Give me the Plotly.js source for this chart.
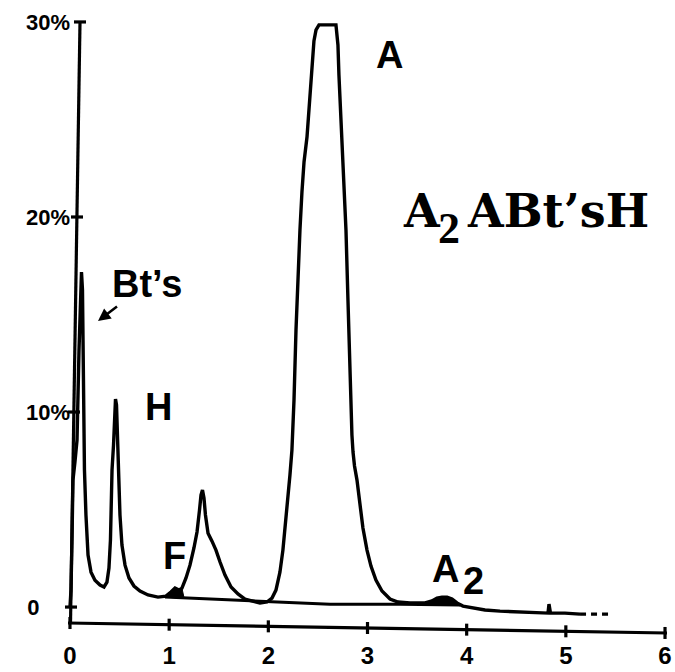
<!DOCTYPE html>
<html>
<head>
<meta charset="utf-8">
<script src="https://cdn.plot.ly/plotly-3.0.1.min.js"></script>
<style>
  html, body { margin: 0; padding: 0; background: #fff; }
  #chart { width: 675px; height: 672px; }
</style>
</head>
<body>
<div id="chart"></div>
<script>
// Retention time (min) and percent of total haemoglobin along the trace
const retentionTime = [
  0.000,0.010,0.020,0.030,0.050,0.071,0.091,0.106,0.116,0.126,
  0.136,0.146,0.161,0.182,0.212,0.252,0.303,0.343,0.373,0.393,
  0.408,0.424,0.439,0.449,0.459,0.469,0.479,0.489,0.504,0.524,
  0.555,0.595,0.645,0.706,0.787,0.887,0.968,1.018,1.059,1.099,
  1.129,1.170,1.210,1.250,1.281,1.306,1.321,1.336,1.351,1.366,
  1.392,1.432,1.472,1.513,1.563,1.624,1.694,1.765,1.835,1.916,
  1.986,2.037,2.077,2.117,2.147,2.168,2.198,2.218,2.238,2.259,
  2.279,2.299,2.319,2.339,2.360,2.390,2.420,2.440,2.460,2.481,
  2.511,2.682,2.702,2.712,2.723,2.743,2.763,2.783,2.803,2.823,
  2.843,2.854,2.869,2.894,2.924,2.954,2.995,3.035,3.085,3.146,
  3.227,3.307,3.428,3.580,3.650,3.701,3.751,3.802,3.852,3.902,
  3.963,4.054,4.185,4.336,4.538,4.800,4.820,4.830,4.845,4.991,
  5.143
];
const percentHb = [
  0.00,0.87,3.44,6.51,7.44,8.56,13.18,16.51,17.18,16.26,
  10.62,7.03,4.72,2.67,1.79,1.38,1.13,1.03,1.28,2.00,
  3.44,7.03,8.31,10.10,10.67,10.36,8.56,6.51,4.72,3.18,
  2.15,1.49,1.08,0.82,0.62,0.51,0.56,0.77,0.97,0.87,
  0.97,1.49,2.15,3.03,3.85,4.97,5.74,6.00,5.59,4.72,
  3.79,3.38,2.92,2.31,1.64,1.03,0.67,0.41,0.31,0.21,
  0.26,0.46,0.87,1.79,2.92,3.95,5.64,6.77,8.05,10.62,
  14.21,17.03,19.33,21.28,22.82,24.10,26.15,27.74,29.03,29.59,
  29.85,29.85,28.82,27.28,26.00,23.95,21.90,19.33,15.74,11.64,
  8.82,7.95,7.23,6.51,5.23,4.05,2.92,2.10,1.38,0.82,
  0.41,0.26,0.21,0.21,0.31,0.46,0.51,0.51,0.41,0.21,
  0.05,-0.05,-0.15,-0.21,-0.26,-0.31,-0.31,0.15,-0.31,-0.31,
  -0.36
];

// Pen lift at the end of the run
const tailTime = [5.143, 5.445];
const tailPercent = [-0.36, -0.36];

// Integration baseline drawn under the F and A peaks
const baselineTime = [0.958, 1.815, 2.622, 3.328, 3.933];
const baselinePercent = [0.51, 0.31, 0.15, 0.15, 0.10];

// Shaded areas of the F and A2 fractions
const fAreaTime = [0.968,1.018,1.059,1.099,1.129,1.149,1.149,0.968];
const fAreaPercent = [0.56,0.77,0.97,0.87,0.97,0.50,0.46,0.50];
const a2AreaTime = [3.580,3.650,3.701,3.751,3.802,3.852,3.902,3.902,3.580];
const a2AreaPercent = [0.21,0.31,0.46,0.51,0.51,0.41,0.21,0.10,0.15];

// Axis ticks
const xTicks = [0, 1, 2, 3, 4, 5, 6];
const xTickText = ['0', '1', '2', '3', '4', '5', '6'];
const yTicks = [0, 10, 20, 30];
const yTickText = ['0\u00a0\u00a0\u00a0\u00a0\u00a0', '10%', '20%', '30%'];

// Plot frame in pixels
const W = 675, H = 672;
const M = { l: 68, r: 8, t: 20, b: 39 };
const plotW = W - M.l - M.r, plotH = H - M.t - M.b;
const px2paperX = px => (px - M.l) / plotW;
const px2paperY = py => (H - M.b - py) / plotH;

const ink = '#000';
const penWidth = 3.4;

const traces = [
  { x: retentionTime, y: percentHb, mode: 'lines',
    line: { color: ink, width: penWidth }, hoverinfo: 'skip' },
  { x: tailTime, y: tailPercent, mode: 'lines',
    line: { color: ink, width: penWidth, dash: '6px,5px' }, hoverinfo: 'skip' },
  { x: baselineTime, y: baselinePercent, mode: 'lines',
    line: { color: ink, width: 3 }, hoverinfo: 'skip' },
  { x: fAreaTime, y: fAreaPercent, mode: 'lines', fill: 'toself',
    fillcolor: ink, line: { color: ink, width: 1 }, hoverinfo: 'skip' },
  { x: a2AreaTime, y: a2AreaPercent, mode: 'lines', fill: 'toself',
    fillcolor: ink, line: { color: ink, width: 1 }, hoverinfo: 'skip' }
];

// Hand-ruled axes: both lines lean slightly
const yAxisTop = { x: 80, y: 22 }, yAxisBottom = { x: 70.5, y: 624 };
const xAxisLeft = { x: 68, y: 623 }, xAxisRight = { x: 667, y: 633 };
const shapes = [
  { type: 'line', xref: 'paper', yref: 'paper',
    x0: px2paperX(yAxisTop.x), y0: px2paperY(yAxisTop.y),
    x1: px2paperX(yAxisBottom.x), y1: px2paperY(yAxisBottom.y),
    line: { color: ink, width: 3.2 } },
  { type: 'line', xref: 'paper', yref: 'paper',
    x0: px2paperX(xAxisLeft.x), y0: px2paperY(xAxisLeft.y),
    x1: px2paperX(xAxisRight.x), y1: px2paperY(xAxisRight.y),
    line: { color: ink, width: 3.2 } }
];
const xPxPerUnit = plotW / (6.02 + 0.02);
xTicks.forEach(t => {
  const tx = M.l + (t + 0.02) * xPxPerUnit;
  const ty = xAxisLeft.y + (tx - xAxisLeft.x) / (xAxisRight.x - xAxisLeft.x) * (xAxisRight.y - xAxisLeft.y);
  shapes.push({ type: 'line', xref: 'x', yref: 'paper', ysizemode: 'pixel',
    yanchor: px2paperY(ty), x0: t, x1: t, y0: -6, y1: 6,
    line: { color: ink, width: 3.2 } });
});
yTicks.forEach(v => {
  const ax = 71 + (v / 30) * (yAxisTop.x - 71);
  shapes.push({ type: 'line', xref: 'paper', yref: 'y', xsizemode: 'pixel',
    xanchor: px2paperX(ax), y0: v, y1: v, x0: -6, x1: 6,
    line: { color: ink, width: 3.2 } });
});

const labelFont = { family: 'Liberation Sans, Arial, sans-serif', size: 38, color: ink, weight: 700 };
const titleFont = { family: 'DejaVu Serif, serif', size: 46, color: ink, weight: 700 };
const subFont = { family: 'Liberation Serif, serif', size: 44, color: ink, weight: 700 };
const lbl = (text, cx, cy, font, extra) => Object.assign({
  text, xref: 'paper', yref: 'paper', x: px2paperX(cx), y: px2paperY(cy),
  xanchor: 'center', yanchor: 'middle', showarrow: false, font
}, extra || {});

const annotations = [
  lbl('A', 389, 55, labelFont),
  lbl('H', 158, 407, labelFont),
  lbl('F', 174, 556, labelFont),
  lbl('A', 445, 569, labelFont),
  lbl('2', 473, 581, labelFont),
  // Bt's with its pointer to the fast-eluting spike
  { text: 'Bt\u2019s', xref: 'paper', yref: 'paper',
    x: px2paperX(98), y: px2paperY(321), showarrow: true,
    ax: 48.5, ay: -37, arrowhead: 2, arrowsize: 1, arrowwidth: 2.5,
    arrowcolor: ink, font: labelFont },
  // Phenotype
  lbl('A', 421.5, 211, titleFont),
  lbl('2', 449, 228, subFont),
  lbl('ABt\u2019sH', 557.5, 211, titleFont)
];

const layout = {
  width: W, height: H,
  margin: M,
  paper_bgcolor: '#fff', plot_bgcolor: '#fff',
  showlegend: false,
  xaxis: {
    range: [-0.02, 6.02], showline: false, ticks: '', showgrid: false, zeroline: false,
    tickvals: xTicks, ticktext: xTickText, ticklabelstandoff: 6,
    tickfont: { family: 'Liberation Sans, Arial, sans-serif', size: 24, color: ink, weight: 700 }
  },
  yaxis: {
    range: [-1.33, 30.10], anchor: 'free', position: px2paperX(74),
    showline: false, ticks: '', showgrid: false, zeroline: false,
    tickvals: yTicks, ticktext: yTickText, ticklabelstandoff: 4,
    tickfont: { family: 'Liberation Sans, Arial, sans-serif', size: 22, color: ink, weight: 700 }
  },
  shapes, annotations
};

Plotly.newPlot('chart', traces, layout, { staticPlot: true, displayModeBar: false });
</script>
</body>
</html>
